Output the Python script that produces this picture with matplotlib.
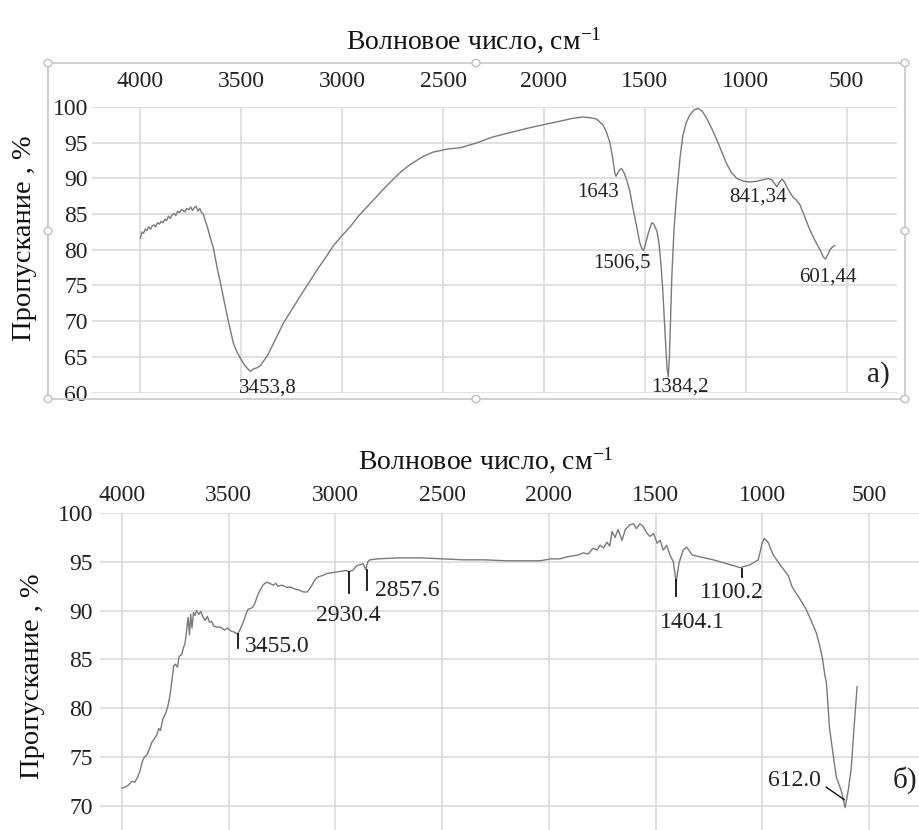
import matplotlib
matplotlib.use("Agg")
import matplotlib.pyplot as plt
from matplotlib.patches import Rectangle, Circle

plt.rcParams['font.family'] = ['Liberation Serif', 'DejaVu Serif']
plt.rcParams['mathtext.fontset'] = 'custom'
plt.rcParams['mathtext.rm'] = 'Liberation Serif'
plt.rcParams['mathtext.default'] = 'regular'

# ---------------- data: spectrum (a) ----------------
wn_a = [4000, 3993, 3985, 3976, 3968, 3960, 3950, 3942, 3933, 3925, 3915, 3906, 3897, 3888,
        3878, 3870, 3861, 3852, 3843, 3834, 3825, 3816, 3806, 3797, 3788, 3779, 3770, 3760,
        3751, 3742, 3733, 3724, 3715, 3706, 3697, 3688, 3680, 3668, 3655, 3638, 3620, 3603,
        3585, 3569, 3553, 3539, 3520, 3504, 3485, 3464, 3454, 3440, 3420, 3405, 3390, 3370,
        3330, 3290, 3250, 3206, 3160, 3122, 3080, 3043, 3000, 2958, 2920, 2874, 2835, 2795,
        2750, 2710, 2670, 2626, 2590, 2547, 2480, 2413, 2330, 2254, 2170, 2085, 2006, 1922,
        1860, 1808, 1770, 1738, 1708, 1690, 1673, 1660, 1649, 1643, 1630, 1615, 1600, 1585,
        1574, 1560, 1540, 1525, 1515, 1506, 1495, 1480, 1465, 1455, 1440, 1430, 1420, 1411,
        1400, 1390, 1384, 1378, 1366, 1355, 1341, 1325, 1312, 1295, 1277, 1255, 1237, 1215,
        1193, 1170, 1143, 1120, 1094, 1070, 1044, 1010, 979, 945, 914, 890, 870, 855, 845,
        835, 820, 808, 796, 780, 766, 750, 731, 710, 682, 660, 632, 615, 605, 595, 582, 570,
        558]
tr_a = [81.6, 82.5, 82.3, 82.9, 82.7, 83.2, 82.9, 83.3, 83.5, 83.2, 83.8, 83.6, 84.0, 83.8,
        84.3, 84.1, 84.7, 84.4, 84.9, 85.1, 84.8, 85.4, 85.2, 85.6, 85.5, 85.3, 85.8, 85.6,
        86.0, 85.5, 85.9, 86.1, 85.4, 85.8, 85.2, 85.0, 84.2, 83.2, 81.8, 80.2, 77.5, 75.3,
        72.8, 70.6, 68.6, 66.9, 65.6, 64.8, 63.9, 63.2, 63.0, 63.3, 63.5, 63.8, 64.4, 65.2,
        67.5, 69.8, 71.6, 73.6, 75.6, 77.3, 79.0, 80.6, 82.0, 83.3, 84.7, 86.1, 87.3, 88.5,
        89.8, 90.9, 91.8, 92.6, 93.2, 93.7, 94.1, 94.3, 95.0, 95.8, 96.4, 97.0, 97.5, 98.0,
        98.4, 98.6, 98.5, 98.3, 97.5, 96.5, 95.0, 93.0, 90.8, 90.3, 91.0, 91.4, 90.6, 89.3,
        88.2, 86.0, 83.2, 81.0, 80.2, 79.9, 81.0, 82.6, 83.8, 83.6, 82.6, 81.0, 78.0, 74.4,
        68.5, 63.5, 62.2, 65.0, 76.3, 83.0, 88.1, 93.0, 95.9, 97.8, 98.9, 99.6, 99.8, 99.4,
        98.4, 97.1, 95.4, 93.8, 92.0, 90.8, 90.0, 89.6, 89.5, 89.6, 89.8, 90.0, 89.8, 89.2,
        88.8, 89.4, 89.9, 89.5, 88.8, 88.0, 87.4, 87.0, 86.3, 84.8, 82.8, 81.5, 80.0, 79.0,
        78.7, 79.2, 80.0, 80.4, 80.6]

peaks_a_labels = ["3453,8", "1643", "1506,5", "1384,2", "841,34", "601,44"]
peaks_a_x = [3370, 1733, 1614, 1326, 939, 592]
peaks_a_y = [60.6, 88.0, 78.2, 60.8, 87.4, 76.2]

# ---------------- data: spectrum (б) ----------------
wn_b = [4000, 3985, 3970, 3953, 3940, 3925, 3915, 3905, 3895, 3883, 3870, 3860, 3850, 3836,
        3828, 3820, 3808, 3795, 3785, 3775, 3765, 3758, 3750, 3740, 3732, 3720, 3712, 3705,
        3698, 3690, 3684, 3678, 3672, 3665, 3658, 3650, 3640, 3630, 3620, 3610, 3600, 3590,
        3580, 3570, 3555, 3540, 3520, 3505, 3490, 3475, 3460, 3450, 3440, 3430, 3420, 3410,
        3400, 3390, 3380, 3370, 3360, 3350, 3340, 3330, 3320, 3300, 3290, 3280, 3270, 3250,
        3230, 3210, 3190, 3170, 3150, 3133, 3115, 3100, 3086, 3060, 3039, 3010, 2979, 2950,
        2935, 2920, 2900, 2885, 2870, 2858, 2848, 2838, 2800, 2700, 2600, 2500, 2400, 2300,
        2200, 2100, 2041, 1990, 1948, 1915, 1887, 1862, 1840, 1815, 1793, 1775, 1760, 1744,
        1728, 1715, 1704, 1690, 1676, 1657, 1642, 1620, 1604, 1590, 1573, 1558, 1540, 1526,
        1510, 1493, 1479, 1464, 1448, 1433, 1417, 1404, 1390, 1371, 1354, 1329, 1292, 1230,
        1166, 1104, 1057, 1019, 1001, 991, 973, 949, 917, 879, 860, 830, 794, 770, 747, 730,
        719, 708, 700, 693, 686, 670, 654, 630, 612, 598, 584, 570, 556]
tr_b = [71.8, 71.9, 72.1, 72.5, 72.4, 73.0, 73.6, 74.5, 75.0, 75.2, 75.9, 76.5, 76.8, 77.3,
        77.9, 77.7, 78.9, 79.5, 80.2, 81.3, 83.0, 84.3, 84.5, 84.2, 85.3, 85.5, 86.2, 86.6,
        87.8, 89.3, 87.5, 89.6, 88.2, 89.8, 89.5, 90.0, 89.6, 89.9, 89.3, 89.0, 89.4, 88.8,
        88.9, 88.4, 88.3, 88.3, 88.0, 88.2, 87.9, 87.8, 87.6, 87.9, 88.4, 88.9, 89.6, 90.1,
        90.2, 90.3, 90.6, 91.2, 91.8, 92.2, 92.6, 92.8, 92.9, 92.7, 92.6, 92.8, 92.5, 92.6,
        92.4, 92.4, 92.2, 92.1, 91.9, 91.9, 92.4, 93.0, 93.4, 93.6, 93.8, 93.9, 94.0, 94.1,
        94.0, 94.1, 94.6, 94.7, 94.8, 94.2, 95.0, 95.2, 95.3, 95.4, 95.4, 95.3, 95.2, 95.2,
        95.1, 95.1, 95.1, 95.3, 95.3, 95.5, 95.6, 95.7, 95.9, 95.8, 96.4, 96.2, 96.7, 96.4,
        97.0, 96.6, 98.1, 97.5, 98.3, 97.2, 98.3, 98.8, 98.9, 98.4, 98.9, 98.6, 97.9, 97.6,
        97.9, 96.9, 97.2, 96.2, 96.7, 95.7, 95.0, 92.9, 94.9, 96.2, 96.5, 95.7, 95.5, 95.2,
        94.8, 94.4, 94.7, 95.2, 96.9, 97.4, 97.0, 95.7, 94.7, 93.6, 92.4, 91.4, 90.1, 88.9,
        87.7, 86.3, 85.2, 83.5, 82.6, 80.5, 78.1, 75.5, 73.0, 71.5, 69.8, 71.5, 73.7, 78.1, 82.2]

peaks_b_labels = ["3455.0", "2930.4", "2857.6", "1404.1", "1100.2", "612.0"]
peaks_b_mark_x = [3457, 2936, 2852, 1404, 1095, None]
peaks_b_mark_y0 = [87.6, 93.9, 94.2, 93.1, 94.3, None]
peaks_b_mark_y1 = [86.2, 91.8, 92.1, 91.5, 93.4, None]
peaks_b_text_x = [3424, 2941, 2814, 1329, 1142, 724]
peaks_b_text_y = [86.3, 89.5, 92.1, 88.8, 91.8, 72.6]
peaks_b_ha = ["left", "center", "left", "center", "center", "right"]

x_ticks = [4000, 3500, 3000, 2500, 2000, 1500, 1000, 500]
y_ticks_a = [60, 65, 70, 75, 80, 85, 90, 95, 100]
y_ticks_b = [70, 75, 80, 85, 90, 95, 100]

W, H = 919, 830
fig = plt.figure(figsize=(W / 100, H / 100), dpi=100)

def fx(px):
    return px / W

def fy(py):
    return 1 - py / H

line_col = '#7a7a7a'
grid_col = '#d9d9d9'

def style(ax, pad_x, pad_y):
    for s in ax.spines.values():
        s.set_visible(False)
    ax.xaxis.tick_top()
    ax.set_xticks(x_ticks)
    ax.tick_params(axis='both', length=0, labelsize=17, colors='#222222')
    ax.tick_params(axis='x', pad=pad_x)
    ax.tick_params(axis='y', pad=pad_y)
    ax.grid(True, color=grid_col, lw=1.1)
    ax.set_axisbelow(True)

# ---------- frame of chart (a) ----------
frame = Rectangle((fx(48), fy(399)), fx(905) - fx(48), fy(63) - fy(399),
                  transform=fig.transFigure, fill=False, ec='#c8c8c8', lw=1.2)
fig.patches.append(frame)
for (hx, hy) in [(48, 63), (476, 63), (905, 63), (48, 231), (905, 231),
                 (48, 399), (476, 399), (905, 399)]:
    c = Circle((fx(hx), fy(hy)), 4.0 / W, transform=fig.transFigure,
               fc='white', ec='#c0c0c0', lw=1.0)
    fig.patches.append(c)

# ---------- chart (a) ----------
axA = fig.add_axes([fx(92), fy(392.6), fx(897) - fx(92), fy(107) - fy(392.6)])
axA.plot(wn_a, tr_a, color=line_col, lw=1.0)
axA.set_xlim(4240, 250)
axA.set_ylim(60, 100)
axA.set_yticks(y_ticks_a)
style(axA, 11, 3)
for lab, x, y in zip(peaks_a_labels, peaks_a_x, peaks_a_y):
    axA.text(x, y, lab, ha='center', va='center', fontsize=15, color='#222222')
axA.text(344, 62.5, "а)", ha='center', va='center', fontsize=21, color='#222222')

fig.text(fx(474), fy(40), "Волновое число, см$^{-1}$", ha='center', va='center',
         fontsize=20, color='#111111')
fig.text(fx(25), fy(238), "Пропускание , %", rotation=90, ha='center', va='center',
         fontsize=20.5, color='#111111')

# ---------- chart (б) ----------
axB = fig.add_axes([fx(100), 0.0, 1.0 - fx(100), fy(513)])
axB.plot(wn_b, tr_b, color=line_col, lw=1.0)
axB.set_xlim(4103, 266)
axB.set_ylim(67.5, 100)
axB.set_yticks(y_ticks_b)
style(axB, 5, 5)
for i, lab in enumerate(peaks_b_labels):
    if peaks_b_mark_x[i] is not None:
        axB.plot([peaks_b_mark_x[i], peaks_b_mark_x[i]],
                 [peaks_b_mark_y0[i], peaks_b_mark_y1[i]], color='#111111', lw=1.3)
    axB.text(peaks_b_text_x[i], peaks_b_text_y[i], lab, ha=peaks_b_ha[i], va='center',
             fontsize=17, color='#222222')
# leader line for 612.0
axB.plot([701, 616], [71.9, 70.6], color='#111111', lw=1.0)
fig.text(fx(917), fy(780), "б)", ha='right', va='center', fontsize=21, color='#222222')

fig.text(fx(486), fy(460), "Волновое число, см$^{-1}$", ha='center', va='center',
         fontsize=20, color='#111111')
fig.text(fx(33), fy(676), "Пропускание , %", rotation=90, ha='center', va='center',
         fontsize=20.5, color='#111111')

fig.savefig("out.png", dpi=100)
